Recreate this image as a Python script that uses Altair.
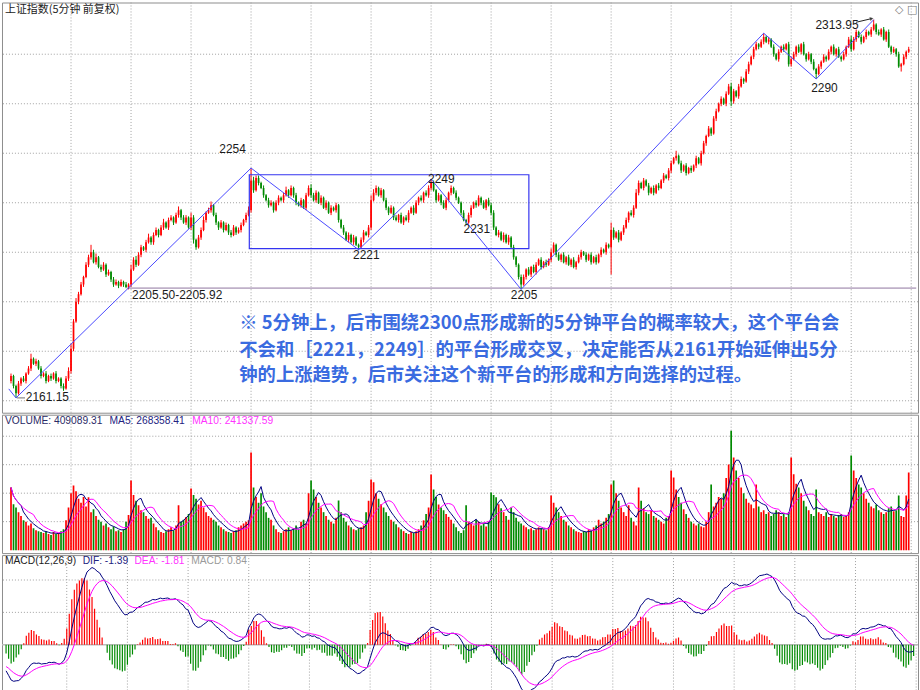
import altair as alt
import numpy as np
import pandas as pd

# ---------------- values ----------------
# 5-minute closes (360 bars, 24 bars between vertical grid lines)
close = [
    2170, 2166, 2163, 2167, 2169, 2168, 2171, 2173, 2177, 2175, 2176, 2173, 2170, 2171, 2168, 2170, 2169, 2171, 2168, 2169, 2166, 2165, 2169, 2172,
    2181, 2192, 2200, 2203, 2207, 2210, 2215, 2218, 2220, 2216, 2218, 2214, 2213, 2215, 2211, 2212, 2209, 2207, 2208, 2206.5, 2208, 2207, 2206, 2207,
    2213, 2217, 2215, 2219, 2222, 2221, 2224, 2226, 2224, 2227, 2229, 2227, 2230, 2232, 2230, 2233, 2234, 2232, 2235, 2237, 2234, 2232, 2234, 2230,
    2234, 2225, 2222, 2226, 2229, 2233, 2236, 2237, 2239, 2235, 2232, 2230, 2232, 2229, 2231, 2228, 2227, 2230, 2228, 2229, 2231, 2233, 2235, 2237,
    2249, 2245, 2250, 2248, 2246, 2243, 2241, 2239, 2240, 2237, 2240, 2242, 2241, 2243, 2245, 2243, 2246, 2243, 2240, 2239, 2241, 2238, 2243, 2246,
    2243, 2241, 2244, 2240, 2242, 2238, 2240, 2236, 2238, 2237, 2239, 2233, 2230, 2228, 2225, 2227, 2224, 2226, 2223, 2222, 2225, 2228, 2227, 2230,
    2241, 2244, 2246, 2243, 2245, 2241, 2238, 2236, 2238, 2234, 2233, 2235, 2232, 2234, 2233, 2236, 2238, 2236, 2240, 2242, 2241, 2244, 2243, 2246,
    2248, 2245, 2241, 2243, 2240, 2238, 2241, 2244, 2246, 2244, 2242, 2240, 2236, 2233, 2232, 2235, 2238, 2240, 2239, 2242, 2240, 2238, 2241, 2239,
    2236, 2230, 2227, 2228, 2225, 2227, 2224, 2226, 2222, 2218, 2215, 2210, 2207, 2210, 2213, 2211, 2214, 2212, 2215, 2217, 2214, 2216, 2215, 2217,
    2220, 2223, 2219, 2217, 2219, 2216, 2218, 2215, 2217, 2214, 2216, 2218, 2220, 2219, 2217, 2219, 2216, 2218, 2216, 2219, 2221, 2220, 2223, 2222,
    2229, 2226, 2228, 2225, 2228, 2230, 2233, 2236, 2235, 2238, 2244, 2248, 2246, 2249, 2247, 2244, 2246, 2244, 2247, 2246, 2249, 2251, 2250, 2253,
    2256, 2258, 2259, 2256, 2253, 2255, 2252, 2254, 2253, 2255, 2258, 2256, 2260, 2264, 2267, 2270, 2268, 2274, 2277, 2280, 2282, 2280, 2284, 2287,
    2281, 2285, 2283, 2287, 2290, 2289, 2293, 2296, 2299, 2302, 2304, 2303, 2305, 2307, 2305, 2306, 2303, 2300, 2298, 2301, 2303, 2302, 2304, 2296,
    2298, 2300, 2303, 2301, 2304, 2300, 2298, 2300, 2297, 2294, 2292, 2295, 2297, 2299, 2298, 2301, 2303, 2300, 2302, 2299, 2298, 2300, 2303, 2306,
    2302, 2306, 2309, 2307, 2305, 2307, 2309, 2308, 2310, 2312, 2309, 2308, 2310, 2306, 2309, 2303, 2301, 2302, 2300, 2295, 2296, 2299, 2301, 2302,
]
first_open = 2168.0

wick_up = [
    1, 0.5, 0.5, 1, 0.5, 1, 0.5, 1, 2, 0.5, 1, 0.5, 1, 0.5, 1, 0.5, 1, 0.5, 1, 0.5, 0.5, 1, 1, 1.5,
    2, 1, 1.5, 1, 1, 0.5, 1, 1, 3, 1, 1.5, 0.5, 1, 1, 0.5, 1, 0.5, 1, 1, 0.5, 1, 0.5, 1, 0.5,
    2, 1, 1.5, 1, 1, 0.5, 1, 1.5, 0.5, 1, 1, 0.5, 1, 1.5, 0.5, 1, 1, 0.5, 1, 1.5, 0.5, 1, 1, 0.5,
    2, 1, 0.5, 1, 1, 1.5, 0.5, 1, 1.5, 0.5, 1, 0.5, 1, 0.5, 1, 0.5, 1, 1, 0.5, 1, 1, 0.5, 1, 1.5,
    5, 1.5, 1, 1, 0.5, 1, 0.5, 1, 1, 0.5, 1, 1, 0.5, 1, 1.5, 0.5, 1, 0.5, 1, 0.5, 1, 0.5, 1, 1,
    1.5, 1, 1, 0.5, 1, 0.5, 1, 0.5, 1, 0.5, 1, 0.5, 0.5, 1, 0.5, 1, 0.5, 1, 0.5, 0.5, 1, 1, 0.5, 1,
    2, 1.5, 1, 0.5, 1, 0.5, 1, 0.5, 1, 0.5, 1, 0.5, 1, 0.5, 1, 1, 0.5, 1, 1, 0.5, 1, 0.5, 1, 1,
    1.6, 1, 0.5, 1, 0.5, 1, 1, 0.5, 1, 0.5, 1, 0.5, 0.5, 1, 0.5, 1, 1, 0.5, 1, 1, 0.5, 1, 0.5, 1,
    1, 1, 0.5, 1, 0.5, 1, 0.5, 1, 0.5, 1, 0.5, 0.5, 1, 1, 0.5, 1, 0.5, 1, 1, 0.5, 1, 0.5, 1, 0.5,
    1.5, 1, 0.5, 1, 0.5, 1, 0.5, 1, 0.5, 1, 0.5, 1, 1, 0.5, 1, 0.5, 1, 0.5, 1, 0.5, 1, 0.5, 1, 0.5,
    3, 1, 0.5, 1, 0.5, 1, 1, 0.5, 1, 1, 1.5, 1, 0.5, 1, 0.5, 1, 0.5, 1, 0.5, 1, 0.5, 1, 0.5, 1,
    1, 0.5, 2, 0.5, 1, 0.5, 1, 0.5, 1, 0.5, 1, 0.5, 1, 1, 0.5, 1, 0.5, 1, 1, 0.5, 1, 0.5, 1, 1,
    1.5, 1, 0.5, 1, 1, 0.5, 1, 1, 0.5, 1, 1, 0.5, 1, 1.5, 0.5, 1, 0.5, 1, 0.5, 1, 0.5, 1, 0.5, 1,
    1, 1, 0.5, 1, 0.5, 1, 0.5, 1, 0.5, 1, 0.5, 1, 0.5, 1, 0.5, 1, 0.5, 1, 0.5, 1, 0.5, 1, 0.5, 1,
    1.5, 1, 1, 0.5, 1, 0.5, 1, 0.5, 1, 1.95, 0.5, 1, 0.5, 1, 0.5, 1, 0.5, 1, 0.5, 1, 0.5, 1, 0.5, 1,
]
wick_dn = [
    1, 1, 1.85, 0.5, 1, 0.5, 1, 0.5, 1, 0.5, 1, 0.5, 1, 0.5, 1, 0.5, 1, 0.5, 1, 0.5, 1, 1, 0.5, 1,
    1, 1, 0.5, 1, 0.5, 1, 0.5, 1, 1, 0.5, 1, 0.5, 1, 0.5, 1, 0.5, 1, 1, 0.5, 1, 0.5, 1, 0.5, 1,
    1, 0.5, 1, 0.5, 1, 0.5, 1, 0.5, 1, 1, 0.5, 1, 0.5, 1, 0.5, 1, 0.5, 1, 0.5, 1, 1, 0.5, 1, 0.5,
    1, 1.5, 1, 0.5, 1, 0.5, 1, 0.5, 1, 0.5, 1, 1, 0.5, 1, 0.5, 1, 1, 0.5, 1, 0.5, 1, 0.5, 1, 0.5,
    1, 1, 0.5, 1, 0.5, 1, 0.5, 1, 0.5, 1, 0.5, 1, 0.5, 1, 0.5, 1, 0.5, 1, 1, 0.5, 1, 0.5, 1, 0.5,
    1, 0.5, 1, 0.5, 1, 0.5, 1, 0.5, 1, 0.5, 1, 1, 0.5, 1, 0.5, 1, 0.5, 1, 0.5, 1, 0.5, 1, 0.5, 1,
    1, 0.5, 1, 0.5, 1, 0.5, 1, 1, 0.5, 1, 0.5, 1, 0.5, 1, 0.5, 1, 0.5, 1, 0.5, 1, 0.5, 1, 0.5, 1,
    1, 0.5, 1, 0.5, 1, 0.5, 1, 0.5, 1, 0.5, 1, 0.5, 1, 0.5, 1, 0.5, 1, 0.5, 1, 0.5, 1, 0.5, 1, 0.5,
    1, 1, 0.5, 1, 0.5, 1, 0.5, 1, 0.5, 1, 1, 1, 2, 0.5, 1, 0.5, 1, 0.5, 1, 0.5, 1, 0.5, 1, 0.5,
    1, 0.5, 1, 0.5, 1, 0.5, 1, 0.5, 1, 0.5, 1, 0.5, 1, 0.5, 1, 0.5, 1, 0.5, 1, 0.5, 1, 0.5, 1, 0.5,
    11, 1, 0.5, 1, 0.5, 1, 0.5, 1, 0.5, 1, 0.5, 1, 0.5, 1, 0.5, 1, 0.5, 1, 0.5, 1, 0.5, 1, 0.5, 1,
    1, 0.5, 1, 0.5, 1, 0.5, 1, 0.5, 1, 0.5, 1, 0.5, 1, 0.5, 1, 0.5, 1, 0.5, 1, 0.5, 1, 0.5, 1, 0.5,
    2, 1, 0.5, 1, 0.5, 1, 0.5, 1, 0.5, 1, 0.5, 1, 0.5, 1, 0.5, 1, 0.5, 1, 0.5, 1, 0.5, 1, 0.5, 1,
    1, 0.5, 1, 0.5, 1, 0.5, 1, 0.5, 1, 0.5, 2, 0.5, 1, 0.5, 1, 0.5, 1, 0.5, 1, 0.5, 1, 0.5, 1, 0.5,
    1, 0.5, 1, 0.5, 1, 0.5, 1, 0.5, 1, 0.5, 1, 0.5, 1, 0.5, 1, 0.5, 1, 0.5, 1, 0.5, 2, 0.5, 1, 0.5,
]

# volume in thousands
volume_k = [
    330, 241, 225, 200, 180, 157, 150, 130, 140, 115, 105, 100, 95, 90, 100, 85, 80, 95, 85, 90, 100, 110, 157, 225,
    300, 340, 310, 270, 250, 280, 230, 278, 200, 215, 180, 160, 150, 130, 140, 120, 110, 125, 100, 105, 95, 110, 150, 185,
    367, 290, 260, 236, 210, 200, 180, 165, 170, 140, 120, 105, 95, 90, 100, 110, 120, 105, 130, 236, 150, 160, 175, 190,
    325, 290, 270, 240, 260, 225, 200, 180, 170, 160, 150, 130, 120, 110, 100, 95, 90, 100, 105, 120, 130, 140, 150, 157,
    514, 330, 280, 250, 300, 230, 200, 170, 160, 130, 110, 95, 90, 100, 110, 120, 105, 115, 130, 110, 150, 160, 140, 300,
    367, 320, 280, 250, 225, 200, 180, 160, 150, 140, 170, 262, 200, 170, 150, 130, 120, 110, 105, 115, 120, 130, 200, 260,
    372, 357, 300, 270, 241, 225, 200, 180, 160, 150, 136, 120, 110, 100, 90, 85, 95, 90, 100, 110, 130, 157, 190, 225,
    399, 320, 280, 240, 225, 210, 190, 175, 160, 140, 120, 100, 90, 105, 236, 150, 140, 130, 160, 150, 130, 140, 125, 150,
    304, 290, 278, 241, 220, 200, 180, 160, 225, 200, 170, 150, 140, 130, 120, 110, 115, 105, 110, 120, 115, 110, 105, 120,
    288, 250, 225, 200, 180, 160, 150, 130, 120, 110, 100, 95, 90, 100, 95, 110, 105, 120, 130, 160, 140, 150, 170, 190,
    346, 367, 300, 260, 225, 200, 180, 236, 170, 150, 130, 330, 260, 220, 200, 190, 210, 180, 170, 160, 150, 140, 170, 180,
    420, 383, 320, 280, 250, 215, 190, 170, 150, 140, 130, 140, 125, 120, 150, 200, 346, 230, 250, 280, 270, 300, 380, 451,
    629, 488, 420, 380, 330, 300, 270, 250, 240, 220, 346, 230, 200, 210, 190, 200, 180, 190, 210, 200, 180, 190, 175, 200,
    488, 400, 350, 330, 300, 260, 230, 210, 190, 180, 320, 200, 190, 180, 200, 175, 190, 180, 170, 185, 190, 175, 180, 200,
    498, 420, 380, 346, 330, 300, 270, 250, 230, 220, 240, 210, 200, 190, 200, 220, 230, 205, 210, 288, 180, 175, 288, 409.09,
]

# EMA state carried in from before the first visible bar (EMA12, EMA26, DEA)
ema_seed = (2180.0, 2183.5, -3.2)

x_grid = [24, 48, 72, 96, 120, 144, 168, 192, 216, 240, 264, 288, 312, 336, 360]
price_grid = [2160, 2180, 2200, 2220, 2240, 2260, 2280, 2300]
vol_grid = [150, 300, 450, 600]
macd_grid = [5, 10]

trend_i = [-0.9, 2, 96, 139, 168, 204, 301, 322, 345]
trend_p = [2164.8, 2161.15, 2254, 2221, 2249.6, 2205, 2308.5, 2290, 2313.95]

box_i = [95.3, 207.1]
box_p = [2221.5, 2251.3]

level_i = [46.5, 362]
level_p = 2205.5

peak_text = ["2254", "2249", "2221", "2231", "2205", "2290"]
peak_i = [88.6, 172.1, 142.1, 186.3, 205.2, 325.3]
peak_p = [2261.8, 2249.7, 2218.7, 2229.2, 2202.6, 2286.3]

left_text = ["2313.95", "2205.50-2205.92", "2161.15"]
left_i = [321.7, 48.4, 5.9]
left_p = [2312.0, 2202.6, 2161.6]

note_lines = [
    " ※ 5分钟上，后市围绕2300点形成新的5分钟平台的概率较大，这个平台会",
    "不会和［2221，2249］的平台形成交叉，决定能否从2161开始延伸出5分",
    "钟的上涨趋势，后市关注这个新平台的形成和方向选择的过程。",
]
note_i = 91.3
note_p = [2191.4, 2180.5, 2170.5]

title_text = "上证指数(5分钟 前复权)"
vol_labels = ["VOLUME: 409089.31", "MA5: 268358.41", "MA10: 241337.59"]
macd_labels = ["MACD(12,26,9)", "DIF: -1.39", "DEA: -1.81", "MACD: 0.84"]

# ---------------- derived tables ----------------
n = len(close)
c = np.array(close, dtype=float)
o = np.concatenate([[first_open], c[:-1]])
hi = np.maximum(o, c) + np.array(wick_up)
lo = np.minimum(o, c) - np.array(wick_dn)
direction = np.where(c >= o, "up", "down")

df = pd.DataFrame({"i": np.arange(n), "o": o, "c": c, "hi": hi, "lo": lo,
                   "dir": direction, "vol": volume_k})
df["ma5"] = df["vol"].rolling(5, min_periods=1).mean()
df["ma10"] = df["vol"].rolling(10, min_periods=1).mean()

e12, e26, dea = ema_seed
difs, deas = [], []
for v in close:
    e12 += (v - e12) * 2 / 13
    e26 += (v - e26) * 2 / 27
    d = e12 - e26
    dea += (d - dea) * 2 / 10
    difs.append(d)
    deas.append(dea)
df["dif"] = difs
df["dea"] = deas
df["macd"] = 2 * (df["dif"] - df["dea"])
df["mdir"] = np.where(df["macd"] >= 0, "up", "down")

RED, GREEN = "#ff0000", "#008a00"
NAVY, MAG = "#000080", "#ff00ff"
GRID = "#a0a0a0"
W = 920

XS = alt.Scale(domain=[-1.615, 360.73], nice=False, zero=False)
PY = alt.Scale(domain=[2155.17, 2320.9], nice=False, zero=False)
VY = alt.Scale(domain=[-15.7, 713.3], nice=False, zero=False)
MY = alt.Scale(domain=[-7.54, 13.85], nice=False, zero=False)
col = alt.Color("dir:N", scale=alt.Scale(domain=["up", "down"], range=[RED, GREEN]), legend=None)


def X(f):
    return alt.X(f, scale=XS, axis=None)


def vgrid():
    return alt.Chart(pd.DataFrame({"g": x_grid})).mark_rule(
        color=GRID, strokeDash=[1, 2], strokeWidth=1).encode(x=X("g:Q"))


def hgrid(vals, scale):
    return alt.Chart(pd.DataFrame({"g": vals})).mark_rule(
        color=GRID, strokeDash=[1, 2], strokeWidth=1).encode(y=alt.Y("g:Q", scale=scale, axis=None))


def header(texts, xs, colors, y, font="Liberation Sans", size=10.3):
    layers = []
    for t, xp, cc in zip(texts, xs, colors):
        layers.append(alt.Chart(pd.DataFrame({"t": [t]})).mark_text(
            align="left", baseline="middle", font=font, fontSize=size, color=cc
        ).encode(x=alt.value(xp), y=alt.value(y), text="t:N"))
    return layers


# ---------------- price panel ----------------
base = alt.Chart(df)
wicks = base.mark_rule(strokeWidth=1, clip=True).encode(
    x=X("i:Q"), y=alt.Y("lo:Q", scale=PY, axis=None), y2="hi:Q", color=col)
bodies = base.mark_bar(size=1.7, clip=True).encode(
    x=X("i:Q"), y=alt.Y("o:Q", scale=PY, axis=None), y2="c:Q", color=col)

level = alt.Chart(pd.DataFrame({"i": level_i, "p": [level_p, level_p]})).mark_line(
    color="#bfb0c8", strokeWidth=1.6, clip=True).encode(
    x=X("i:Q"), y=alt.Y("p:Q", scale=PY, axis=None))
low_tick = alt.Chart(pd.DataFrame({"i": [2.3, 5.6], "p": [2161.15, 2161.15]})).mark_line(
    color="#707070", strokeWidth=1).encode(x=X("i:Q"), y=alt.Y("p:Q", scale=PY, axis=None))

box = alt.Chart(pd.DataFrame({"x1": [box_i[0]], "x2": [box_i[1]], "y1": [box_p[0]], "y2": [box_p[1]]})).mark_rect(
    fillOpacity=0, stroke="#3434f0", strokeWidth=1.2).encode(
    x=X("x1:Q"), x2="x2:Q", y=alt.Y("y1:Q", scale=PY, axis=None), y2="y2:Q")

trend = alt.Chart(pd.DataFrame({"k": range(len(trend_i)), "i": trend_i, "p": trend_p})).mark_line(
    color="#4a4aff", strokeWidth=1, clip=True).encode(
    x=X("i:Q"), y=alt.Y("p:Q", scale=PY, axis=None), order="k:Q")

peak_lbl = alt.Chart(pd.DataFrame({"t": peak_text, "i": peak_i, "p": peak_p})).mark_text(
    align="center", baseline="middle", font="Liberation Sans", fontSize=12, color="#1a1a1a").encode(
    x=X("i:Q"), y=alt.Y("p:Q", scale=PY, axis=None), text="t:N")
left_lbl = alt.Chart(pd.DataFrame({"t": left_text, "i": left_i, "p": left_p})).mark_text(
    align="left", baseline="middle", font="Liberation Sans", fontSize=12, color="#1a1a1a").encode(
    x=X("i:Q"), y=alt.Y("p:Q", scale=PY, axis=None), text="t:N")

arrow = alt.Chart(pd.DataFrame({"i": [337.9, 344.2], "p": [2312.9, 2314.4]})).mark_line(
    color="#222222", strokeWidth=1).encode(x=X("i:Q"), y=alt.Y("p:Q", scale=PY, axis=None))
arrow_head = alt.Chart(pd.DataFrame({"i": [344.2], "p": [2314.4]})).mark_point(
    shape="triangle-right", size=18, filled=True, color="#222222", angle=346).encode(
    x=X("i:Q"), y=alt.Y("p:Q", scale=PY, axis=None))

note = alt.Chart(pd.DataFrame({"t": note_lines, "i": [note_i] * 3, "p": note_p})).mark_text(
    align="left", baseline="middle", font="Noto Sans CJK SC", fontSize=18.4, fontWeight="bold",
    color="#3a6be0").encode(x=X("i:Q"), y=alt.Y("p:Q", scale=PY, axis=None), text="t:N")

price_panel = alt.layer(
    vgrid(), hgrid(price_grid, PY), level, low_tick, wicks, bodies, box, trend,
    peak_lbl, left_lbl, arrow, arrow_head, note,
    *header([title_text], [3], ["#222222"], 8, font="Noto Sans CJK SC", size=11),
    *header(["◇", "□"], [897, 909], ["#777777", "#777777"], 8, font="DejaVu Sans", size=11),
).properties(width=W, height=412)

# ---------------- volume panel ----------------
vbars = base.mark_bar(size=1.7, clip=True).encode(
    x=X("i:Q"), y=alt.Y("vol:Q", scale=VY, axis=None), y2=alt.datum(0), color=col)
ma5 = base.mark_line(color=NAVY, strokeWidth=1, clip=True).encode(
    x=X("i:Q"), y=alt.Y("ma5:Q", scale=VY, axis=None))
ma10 = base.mark_line(color=MAG, strokeWidth=1, clip=True).encode(
    x=X("i:Q"), y=alt.Y("ma10:Q", scale=VY, axis=None))
vol_panel = alt.layer(
    vgrid(), hgrid(vol_grid, VY), vbars, ma5, ma10,
    *header(vol_labels, [3, 108, 191], ["#2a2a66", "#23237f", "#ff33ff"], 6),
).properties(width=W, height=139)

# ---------------- MACD panel ----------------
mcol = alt.Color("mdir:N", scale=alt.Scale(domain=["up", "down"], range=[RED, GREEN]), legend=None)
zero = alt.Chart(pd.DataFrame({"z": [0]})).mark_rule(color="#bdbdbd", strokeWidth=1.5).encode(
    y=alt.Y("z:Q", scale=MY, axis=None))
hist = base.mark_rule(strokeWidth=1.2, clip=True).encode(
    x=X("i:Q"), y=alt.Y("macd:Q", scale=MY, axis=None), y2=alt.datum(0), color=mcol)
dif_line = base.mark_line(color=NAVY, strokeWidth=1, clip=True).encode(
    x=X("i:Q"), y=alt.Y("dif:Q", scale=MY, axis=None))
dea_line = base.mark_line(color=MAG, strokeWidth=1, clip=True).encode(
    x=X("i:Q"), y=alt.Y("dea:Q", scale=MY, axis=None))
macd_panel = alt.layer(
    vgrid(), hgrid(macd_grid, MY), zero, hist, dif_line, dea_line,
    *header(macd_labels, [3, 81, 133, 190], ["#222222", "#23237f", "#ff33ff", "#9a9a9a"], 6),
).properties(width=W, height=139)

chart = alt.vconcat(price_panel, vol_panel, macd_panel, spacing=0).properties(
    padding=0, background="white"
).configure_view(stroke="#8c8c8c", strokeWidth=1)

chart.save("out.html", embed_options={"renderer": "svg", "actions": False})
